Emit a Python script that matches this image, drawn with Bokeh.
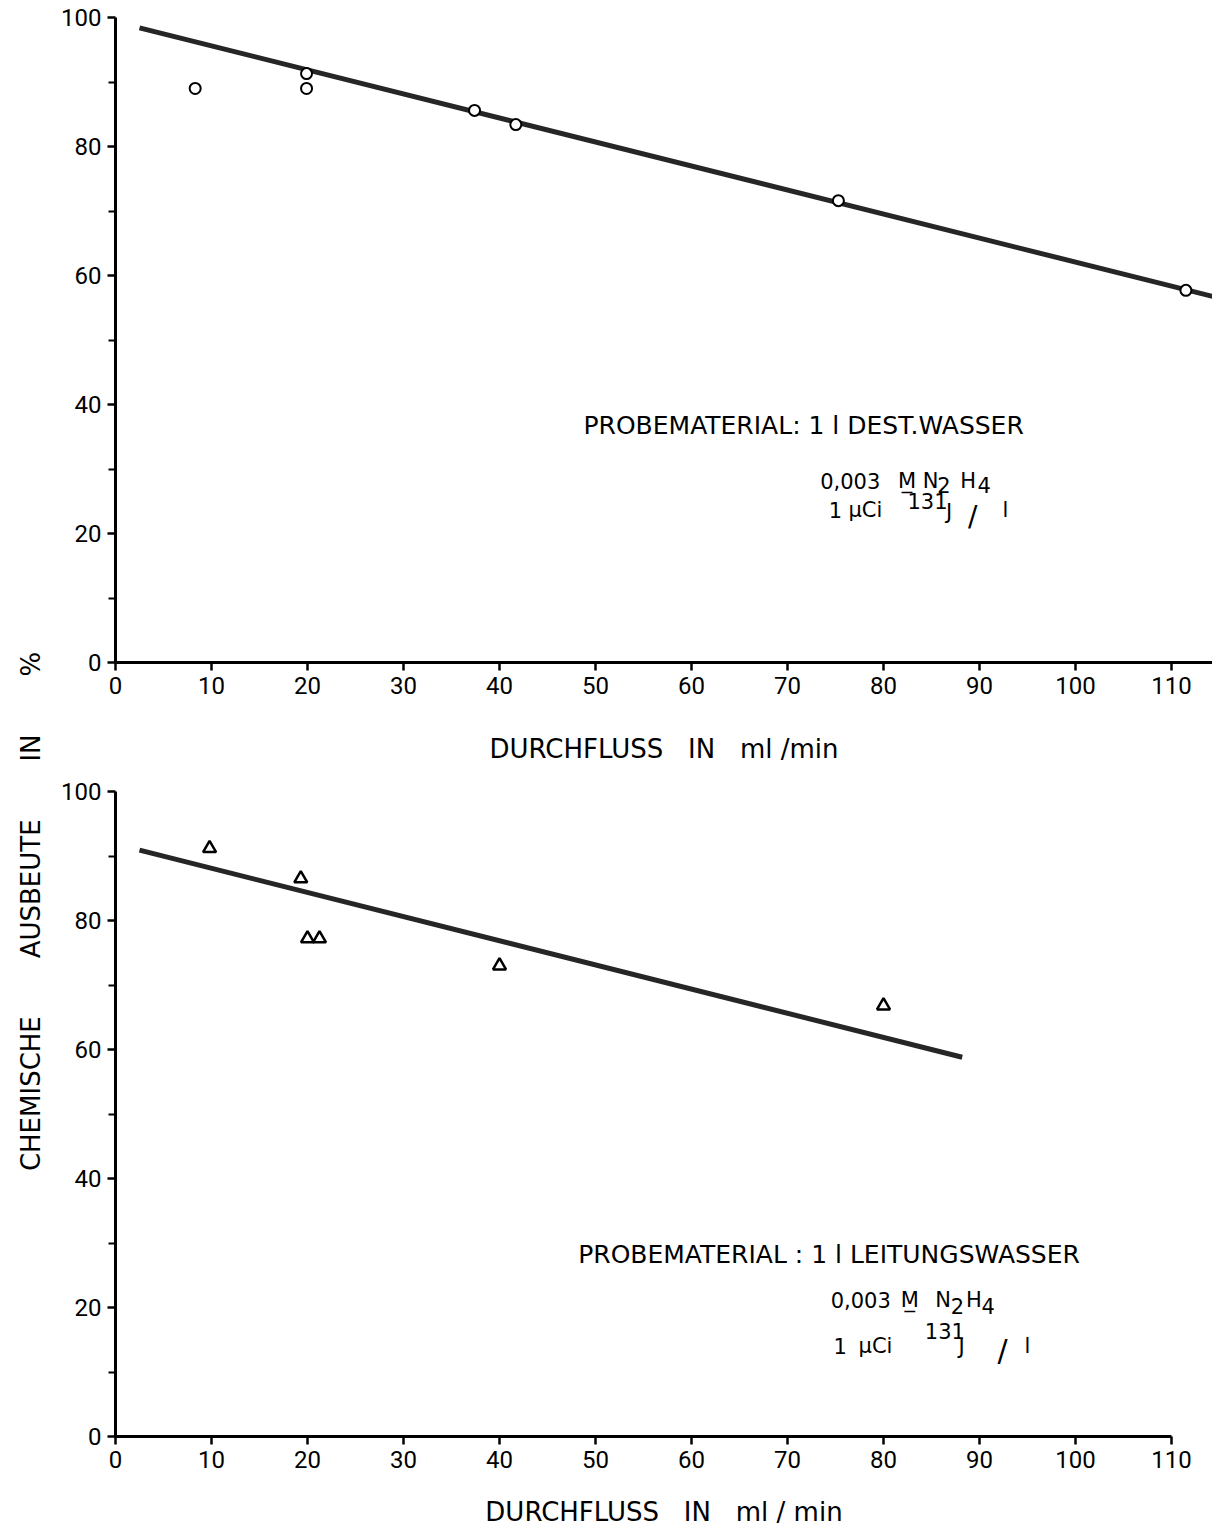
import math
from bokeh.plotting import figure
from bokeh.layouts import row, column
from bokeh.models import Range1d, FixedTicker, Label
from bokeh.embed import file_html
from bokeh.resources import INLINE

# ---------------- data ----------------
x_ticks = [0, 10, 20, 30, 40, 50, 60, 70, 80, 90, 100, 110]
y_ticks = [0, 20, 40, 60, 80, 100]
y_minor = [10, 30, 50, 70, 90]

# upper panel: dest. Wasser (circles)
top_flow = [8.3, 19.9, 19.9, 37.4, 41.7, 75.3, 111.5]
top_yield = [89.0, 91.3, 89.0, 85.6, 83.4, 71.6, 57.7]
top_fit_flow = [2.5, 114.7]
top_fit_yield = [98.4, 56.6]

# lower panel: Leitungswasser (triangles)
bot_flow = [9.8, 19.3, 20.0, 21.25, 40.0, 80.0]
bot_yield = [91.2, 86.5, 77.2, 77.2, 73.0, 66.8]
bot_fit_flow = [2.5, 88.2]
bot_fit_yield = [90.9, 58.8]

NB = "\u00a0"
x_label_top = "DURCHFLUSS " + NB * 2 + "IN " + NB * 2 + "ml /min"
x_label_bot = "DURCHFLUSS " + NB * 2 + "IN " + NB * 2 + "ml / min"
y_label = ("CHEMISCHE " + NB * 6 + "AUSBEUTE " + NB * 6 + "IN " + NB * 6 + "%")

PX_PER_X = 9.6
FRAME_W = 1097
X_END = FRAME_W / PX_PER_X
TICK_FONT = "Roboto"
TXT_FONT = "DejaVu Sans"


def make_panel(height, y_end, mb_bottom, xbounds, lab_standoff, xlab):
    p = figure(width=57 + FRAME_W, height=height,
               x_range=Range1d(0, X_END), y_range=Range1d(0, y_end),
               output_backend="svg", toolbar_location=None,
               min_border_left=57, min_border_right=0,
               min_border_top=0, min_border_bottom=mb_bottom)
    p.outline_line_color = None
    p.xgrid.grid_line_color = None
    p.ygrid.grid_line_color = None
    p.background_fill_color = "white"
    p.border_fill_color = "white"
    for ax in (p.xaxis[0], p.yaxis[0]):
        ax.axis_line_width = 3
        ax.axis_line_color = "black"
        ax.major_tick_line_width = 2.5
        ax.major_tick_line_color = "black"
        ax.major_tick_in = 0
        ax.major_tick_out = 8
        ax.major_label_text_font = TICK_FONT
        ax.major_label_text_font_size = "24px"
        ax.major_label_text_color = "black"
        ax.major_label_standoff = 6
    p.yaxis.ticker = FixedTicker(ticks=y_ticks, minor_ticks=y_minor)
    p.yaxis.minor_tick_in = 0
    p.yaxis.minor_tick_out = 7
    p.yaxis.minor_tick_line_width = 2
    p.yaxis.minor_tick_line_color = "black"
    p.yaxis.bounds = (0, 100)
    p.xaxis.ticker = FixedTicker(ticks=x_ticks)
    p.xaxis.minor_tick_line_color = None
    p.xaxis.bounds = xbounds
    p.xaxis.axis_label = xlab
    p.xaxis.axis_label_text_font = TXT_FONT
    p.xaxis.axis_label_text_font_style = "normal"
    p.xaxis.axis_label_text_font_size = "26px"
    p.xaxis.axis_label_text_color = "black"
    p.xaxis.axis_label_standoff = lab_standoff
    return p


def txt(p, x, y, s, size=21, align="left", baseline="middle", font=TXT_FONT):
    p.add_layout(Label(x=x, y=y, text=s, text_font=font,
                       text_font_size=f"{size}px", text_align=align,
                       text_baseline=baseline, text_color="black"))


# ---------------- upper panel ----------------
top = make_panel(775, 100 + 17 / 6.45, 113, (0, X_END), 37, x_label_top)
top.line(top_fit_flow, top_fit_yield, line_width=5, line_color="#262626")
top.scatter(top_flow, top_yield, marker="circle", size=11,
            fill_color="white", line_color="black", line_width=2)

txt(top, 48.75, 36.7, "PROBEMATERIAL: 1 l DEST.WASSER", size=25)
txt(top, 73.4, 28.2, "0,003")
txt(top, 81.5, 28.2, "M\u0332")
txt(top, 84.1, 28.2, "N")
txt(top, 85.6, 27.5, "2")
txt(top, 88.0, 28.2, "H")
txt(top, 89.8, 27.5, "4")
txt(top, 74.3, 23.7, "1")
txt(top, 76.35, 23.7, "\u00b5Ci")
txt(top, 82.5, 25.1, "131")
txt(top, 86.5, 23.4, "J")
txt(top, 89.3, 22.6, "/", size=28, align="center")
txt(top, 92.4, 23.7, "l")

# ---------------- lower panel ----------------
bot = make_panel(755, 100 + 16 / 6.45, 94, (0, 110), 26, x_label_bot)
bot.line(bot_fit_flow, bot_fit_yield, line_width=5, line_color="#262626")
bot.scatter(bot_flow, bot_yield, marker="triangle", size=13,
            fill_color="white", line_color="black", line_width=2.5)

txt(bot, 48.2, 28.2, "PROBEMATERIAL : 1 l LEITUNGSWASSER", size=25)
txt(bot, 74.5, 21.1, "0,003")
txt(bot, 81.8, 21.1, "M\u0332")
txt(bot, 85.4, 21.1, "N")
txt(bot, 87.0, 20.3, "2")
txt(bot, 88.6, 21.1, "H")
txt(bot, 90.2, 20.3, "4")
txt(bot, 74.8, 14.1, "1")
txt(bot, 77.4, 14.1, "\u00b5Ci")
txt(bot, 84.3, 16.4, "131")
txt(bot, 87.8, 13.8, "J")
txt(bot, 92.4, 13.3, "/", size=30, align="center")
txt(bot, 94.7, 14.1, "l")

# ---------------- shared y label ----------------
TOTAL_H = 775 + 755
lab = figure(width=58, height=TOTAL_H, x_range=Range1d(0, 58), y_range=Range1d(0, TOTAL_H),
             output_backend="svg", toolbar_location=None,
             min_border_left=0, min_border_right=0, min_border_top=0, min_border_bottom=0)
lab.axis.visible = False
lab.grid.visible = False
lab.outline_line_color = None
lab.add_layout(Label(x=30, y=TOTAL_H - 911, text=y_label, angle=math.pi / 2,
                     text_font=TXT_FONT, text_font_size="26px",
                     text_align="center", text_baseline="middle", text_color="black"))

layout = row(lab, column(top, bot))
open("out.html", "w").write(file_html(layout, INLINE))
